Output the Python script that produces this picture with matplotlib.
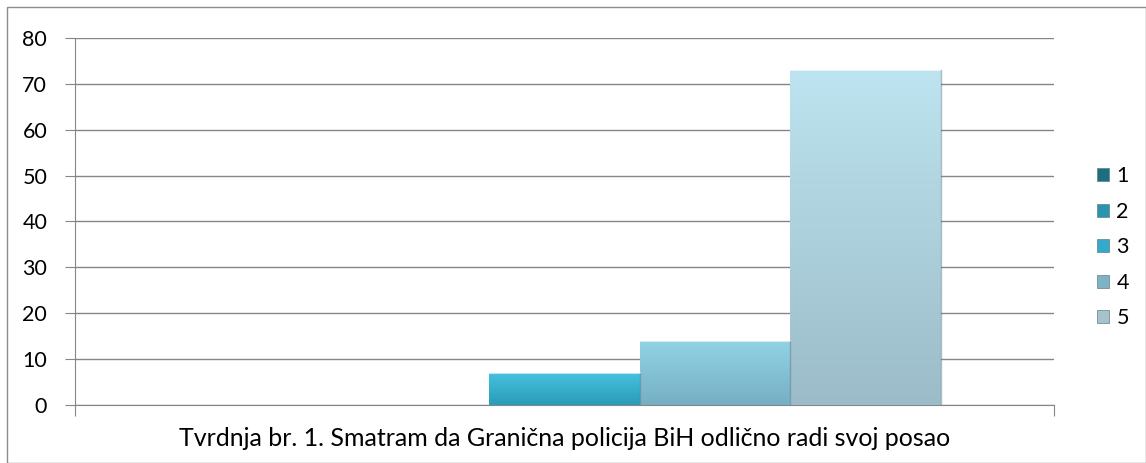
import numpy as np
import matplotlib.pyplot as plt
from matplotlib.patches import Rectangle
from matplotlib.colors import LinearSegmentedColormap

plt.rcParams['font.family'] = ['Lato', 'DejaVu Sans']

series = ['1', '2', '3', '4', '5']
values = [0, 0, 7, 14, 73]
title = 'Tvrdnja br. 1. Smatram da Granična policija BiH odlično radi svoj posao'
yticks = [0, 10, 20, 30, 40, 50, 60, 70, 80]

# top colour / bottom colour of each bar, and legend swatch colour
top_cols = ['#2a8fa3', '#3aa9c6', '#45c3e0', '#92d3e6', '#bde4f0']
bot_cols = ['#1a6676', '#237f98', '#2a9bb8', '#76afc3', '#9bbcc8']
leg_cols = ['#1d6f80', '#2a93ae', '#33aacb', '#7fb3c4', '#a6c2cc']

fig = plt.figure(figsize=(11.46, 4.63), dpi=100)
fig.patches.append(Rectangle((0.006, 0.0), 0.994, 0.985, transform=fig.transFigure,
                             fill=False, edgecolor='#8c8c8c', lw=1))
ax = fig.add_axes([0.0654, 0.1253, 0.8543, 0.7927])

n = len(series)
bw = 1.0 / (n + 1.5)
x0 = -n * bw / 2
xs = [x0 + i * bw for i in range(n)]

for i, (x, v) in enumerate(zip(xs, values)):
    if v <= 0:
        continue
    bar = ax.bar(x, v, width=bw, align='edge', color=bot_cols[i], edgecolor='none', zorder=2)[0]
    cmap = LinearSegmentedColormap.from_list('g', [bot_cols[i], top_cols[i]])
    grad = np.linspace(0, 1, 256).reshape(-1, 1)
    im = ax.imshow(grad, cmap=cmap, origin='lower', aspect='auto',
                   extent=[x, x + bw, 0, v], zorder=3)
    im.set_clip_path(bar)
    # bevel highlights
    ax.plot([x, x + bw], [v, v], color='white', lw=1.5, alpha=0.6, zorder=4)
    ax.plot([x + bw, x + bw], [0, v], color='#5a7f8a', lw=1, alpha=0.5, zorder=4)

ax.set_xlim(-0.5, 0.5)
ax.set_ylim(0, 80)
ax.set_yticks(yticks)
ax.set_xticks([-0.5, 0.5])
ax.set_xticklabels([])
ax.yaxis.grid(True, color='#868686', lw=1)
ax.set_axisbelow(True)
for s in ['top', 'right']:
    ax.spines[s].set_visible(False)
for s in ['left', 'bottom']:
    ax.spines[s].set_color('#868686')
ax.tick_params(axis='y', length=7, color='#868686', labelsize=15.5, pad=13)
ax.tick_params(axis='x', length=8, color='#868686')
ax.set_xlabel(title, fontsize=18, labelpad=4)

handles = [Rectangle((0, 0), 1, 1, facecolor=c, edgecolor='#5f7f88', lw=0.5) for c in leg_cols]
ax.legend(handles, series, loc='center left', bbox_to_anchor=(1.033, 0.43), frameon=False,
          fontsize=15.5, handlelength=0.55, handleheight=0.55, handletextpad=0.35,
          labelspacing=0.72, borderpad=0)

fig.savefig('out.png', dpi=100)
